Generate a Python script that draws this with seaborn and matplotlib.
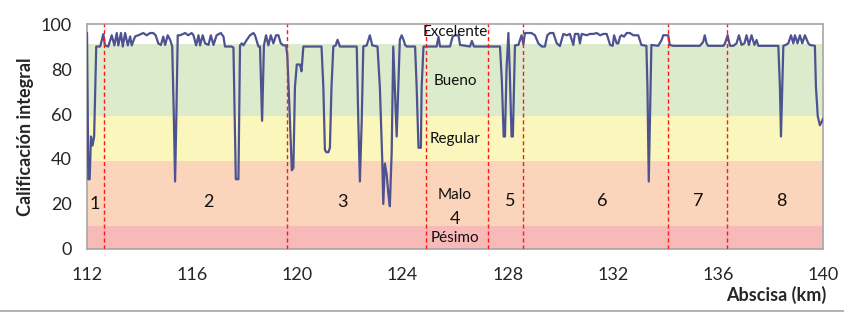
import matplotlib
matplotlib.use('Agg')
import matplotlib.pyplot as plt
import seaborn as sns
import pandas as pd

sns.set_style('white')
plt.rcParams['font.family'] = ['Lato', 'DejaVu Sans']

# ===== DATA =====
abscisa_km = [
    112.0, 112.05, 112.1, 112.15, 112.21, 112.27, 112.35, 112.5, 112.62, 112.68,
    112.81, 112.94, 113.04, 113.13, 113.19, 113.29, 113.36, 113.45, 113.55, 113.64,
    113.7, 113.83, 113.95, 114.14, 114.27, 114.4, 114.52, 114.61, 114.71, 114.81,
    114.9, 114.97, 115.07, 115.16, 115.24, 115.3, 115.35, 115.4, 115.45, 115.54,
    115.73, 115.85, 115.98, 116.05, 116.15, 116.24, 116.3, 116.4, 116.49, 116.62,
    116.71, 116.81, 116.93, 117.09, 117.19, 117.25, 117.5, 117.57, 117.66, 117.76,
    117.82, 117.89, 117.95, 118.08, 118.2, 118.33, 118.39, 118.52, 118.58, 118.66,
    118.73, 118.81, 118.9, 118.99, 119.09, 119.19, 119.28, 119.37, 119.47, 119.57,
    119.62, 119.72, 119.79, 119.85, 119.91, 119.98, 120.1, 120.16, 120.23, 120.29,
    120.92, 120.99, 121.05, 121.11, 121.18, 121.24, 121.3, 121.37, 121.46, 121.53,
    121.62, 122.26, 122.32, 122.38, 122.45, 122.51, 122.64, 122.76, 122.85, 123.05,
    123.14, 123.23, 123.27, 123.33, 123.4, 123.46, 123.52, 123.59, 123.65, 123.71,
    123.78, 123.84, 123.9, 123.97, 124.04, 124.1, 124.16, 124.48, 124.54, 124.61,
    124.7, 124.73, 124.8, 125.3, 125.37, 125.43, 125.81, 125.91, 126.0, 126.13,
    126.19, 126.57, 126.64, 126.72, 127.71, 127.78, 127.85, 127.9, 127.96, 128.03,
    128.08, 128.15, 128.2, 128.28, 128.41, 128.53, 128.6, 128.66, 128.91, 129.04,
    129.17, 129.3, 129.42, 129.51, 129.61, 129.74, 129.87, 129.99, 130.12, 130.25,
    130.37, 130.5, 130.56, 130.69, 130.75, 130.82, 131.01, 131.13, 131.26, 131.39,
    131.52, 131.64, 131.77, 131.9, 132.0, 132.05, 132.15, 132.21, 132.28, 132.34,
    132.43, 132.53, 132.65, 132.78, 132.97, 133.09, 133.28, 133.32, 133.37, 133.44,
    133.47, 133.73, 133.86, 133.92, 134.05, 134.11, 134.17, 134.3, 135.31, 135.44,
    135.5, 135.57, 135.63, 136.21, 136.27, 136.37, 136.46, 136.59, 136.71, 136.8,
    136.9, 137.01, 137.09, 137.18, 137.28, 137.39, 137.47, 137.54, 138.3, 138.36,
    138.4, 138.45, 138.49, 138.58, 138.68, 138.78, 138.87, 138.93, 139.03, 139.12,
    139.21, 139.31, 139.44, 139.5, 139.69, 139.73, 139.8, 139.88, 139.97, 140.0,
]
calificacion = [
    96, 31, 31, 50, 46, 50, 90, 90, 95.5, 90.5,
    90, 95, 90.5, 96, 90.5, 96, 90, 96, 90.5, 94.5,
    90.5, 94.5, 95, 96, 95, 96, 96, 95, 91.4, 90.7,
    94.4, 90.7, 95, 93, 90, 60, 30, 60, 95, 95,
    96, 95, 96, 95, 90.5, 95, 90.5, 95, 91.4, 90.7,
    95, 90.7, 95, 96, 94.4, 90, 90, 89.5, 31, 31,
    90.5, 91.4, 90.5, 93, 95, 96, 95, 90, 90, 57,
    90.5, 95, 90.5, 95, 91.4, 95, 95, 91.4, 90.5, 90.5,
    86, 57, 35, 36, 72, 82, 82, 79, 90, 90,
    90, 72, 44, 43, 43, 45, 72, 90, 90.5, 93,
    90, 90, 57, 30, 57, 90, 90.5, 95, 90.5, 90,
    72, 40, 20, 38, 33, 25, 19, 43, 90, 72,
    50, 72, 93, 95, 93, 90.7, 90, 90, 72, 45,
    45, 72, 90, 90, 94.4, 90, 90, 94.4, 95, 95,
    90.7, 90, 92.5, 90, 90, 75, 50, 50, 80, 96,
    80, 50, 50, 90.5, 90.7, 95, 91, 96, 96, 95,
    91.4, 90, 90, 95, 96, 96, 91.4, 90.2, 95.6, 95,
    95.6, 90.7, 95.6, 95.6, 91.4, 95.6, 95, 95.6, 95.6, 96,
    95, 95.6, 95.6, 90.7, 90.3, 95, 91.4, 91.4, 94.4, 95,
    94.4, 96, 96, 95, 95, 90.7, 90.3, 72, 30, 72,
    90.7, 90.3, 92.9, 95, 95, 95, 90.7, 90.3, 90.3, 92,
    95, 91.4, 90.3, 90.3, 91.4, 95, 90.3, 90.3, 91.4, 95,
    90.7, 91.4, 95, 90.7, 95, 90.7, 92.9, 90.3, 90.3, 72,
    50, 72, 90.3, 90.7, 91.4, 95, 91.4, 95, 91.4, 95,
    91.4, 95, 91.4, 90.7, 90.3, 72, 59, 55, 57, 58,
]

# rating bands (lower, upper, colour) and their labels
band_limits = [0, 10, 39, 59, 91, 100]
band_colors = ['#f8b9b9', '#fbd5bb', '#fbf6bb', '#dcebcc', '#ffffff']
band_labels = ['Pésimo', 'Malo', 'Regular', 'Bueno', 'Excelente']
band_label_y = [4.7, 24, 49, 74.5, 96.6]

# section boundaries and section numbers
tramo_limits = [112.65, 119.6, 124.9, 127.25, 128.6, 134.1, 136.35]
tramo_names = ['1', '2', '3', '4', '5', '6', '7', '8']
tramo_x = [112.3, 116.6, 121.7, 126.0, 128.1, 131.6, 135.25, 138.4]
tramo_y = [20, 21, 21, 13.5, 21.5, 21.5, 21.5, 21.5]

x_ticks = [112, 116, 120, 124, 128, 132, 136, 140]
y_ticks = [0, 20, 40, 60, 80, 100]

df = pd.DataFrame({'abscisa': abscisa_km, 'calificacion': calificacion})

# ===== PLOT =====
fig = plt.figure(figsize=(8.45, 3.12), dpi=100)
ax = fig.add_axes([0.103, 0.202, 0.871, 0.721])

for lo, hi, c in zip(band_limits[:-1], band_limits[1:], band_colors):
    ax.axhspan(lo, hi, color=c, lw=0, zorder=0)

sns.lineplot(data=df, x='abscisa', y='calificacion', ax=ax, color='#4d5391',
             linewidth=1.6, zorder=3)

for xv in tramo_limits:
    ax.axvline(xv, color='#ff1a1a', linestyle=(0, (3, 2)), linewidth=1.0, zorder=4)

for lab, yv in zip(band_labels, band_label_y):
    ax.text(126.0, yv, lab, ha='center', va='center', fontsize=11, color='#111111', zorder=5)

for name, xv, yv in zip(tramo_names, tramo_x, tramo_y):
    ax.text(xv, yv, name, ha='center', va='center', fontsize=13, color='#111111', zorder=5)

ax.set_xlim(112, 140)
ax.set_ylim(0, 100)
ax.set_xticks(x_ticks)
ax.set_yticks(y_ticks)
ax.tick_params(axis='both', which='major', labelsize=13, length=5, width=1,
               color='#a0a0a0', direction='out', pad=6)
ax.tick_params(axis='x', pad=8)
for sp in ax.spines.values():
    sp.set_color('#a6a6a6')
    sp.set_linewidth(1.2)

ax.set_xlabel('')
ax.set_ylabel('Calificación integral', fontsize=13, fontweight='bold', labelpad=5)
fig.text(0.978, 0.025, 'Abscisa (km)', ha='right', va='bottom', fontsize=13, fontweight='bold')

# thin chart-area border at the bottom
fig.add_artist(plt.Line2D([0, 1], [0.004, 0.004], color='#a6a6a6', linewidth=1.2,
                          transform=fig.transFigure))

fig.savefig('out.png', dpi=100)
